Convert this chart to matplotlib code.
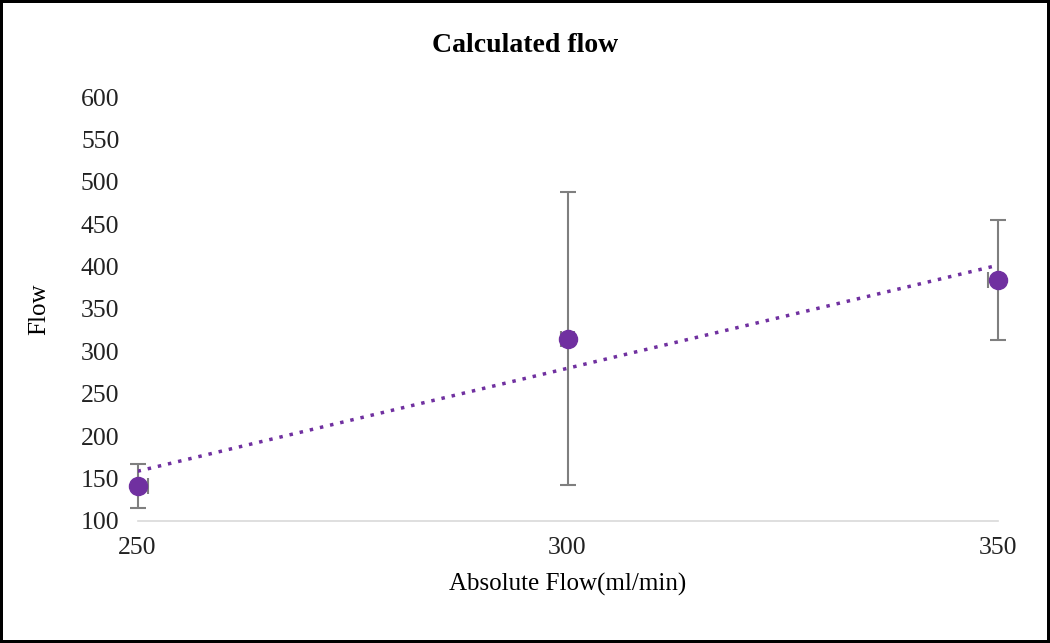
import matplotlib.pyplot as plt
import numpy as np

# Data
x_vals = [250, 300, 350]
y_vals = [141, 315, 384]
y_err = [26, 173, 71]
x_err_lo = [0, 0.8, 1.1]
x_err_hi = [1.2, 0.8, 0]

plt.rcParams['font.family'] = ['Liberation Serif', 'DejaVu Serif']

fig = plt.figure(figsize=(10.5, 6.43), dpi=100)
fig.patch.set_edgecolor('black')
fig.patch.set_linewidth(3)
ax = fig.add_axes([0.131, 0.19, 0.819, 0.659])

purple = '#7030A0'
eb = ax.errorbar(x_vals, y_vals, yerr=y_err, xerr=[x_err_lo, x_err_hi], fmt='none',
                 ecolor='#7f7f7f', elinewidth=1.5, capsize=6, capthick=1.5, zorder=2)
for art in list(eb.lines[1]) + list(eb.lines[2]):
    art.set_clip_on(False)
ax.plot(x_vals, y_vals, 'o', color=purple, markersize=13, zorder=3, clip_on=False)

# linear trend line
k, b = np.polyfit(x_vals, y_vals, 1)
xs = np.array([x_vals[0], x_vals[-1]])
ax.plot(xs, k * xs + b, linestyle=(0, (1, 2)), color=purple, linewidth=2.5, zorder=2)

ax.set_xlim(250, 350)
ax.set_ylim(100, 600)
ax.set_xticks([250, 300, 350])
ax.set_yticks(np.arange(100, 601, 50))
for s in ['top', 'right', 'left']:
    ax.spines[s].set_visible(False)
ax.spines['bottom'].set_color('#d9d9d9')
ax.spines['bottom'].set_linewidth(1.2)
ax.tick_params(axis='both', length=0, labelsize=18.5, colors='#222222')
ax.tick_params(axis='x', pad=12)
ax.tick_params(axis='y', pad=13)

fig.suptitle('Calculated flow', x=0.5, y=1 - 45 / 643, va='center',
             fontsize=20, fontweight='bold')
ax.set_xlabel('Absolute Flow(ml/min)', fontsize=18, labelpad=10)
ax.set_ylabel('Flow', fontsize=18, labelpad=22)

plt.savefig('out.png', dpi=100)
